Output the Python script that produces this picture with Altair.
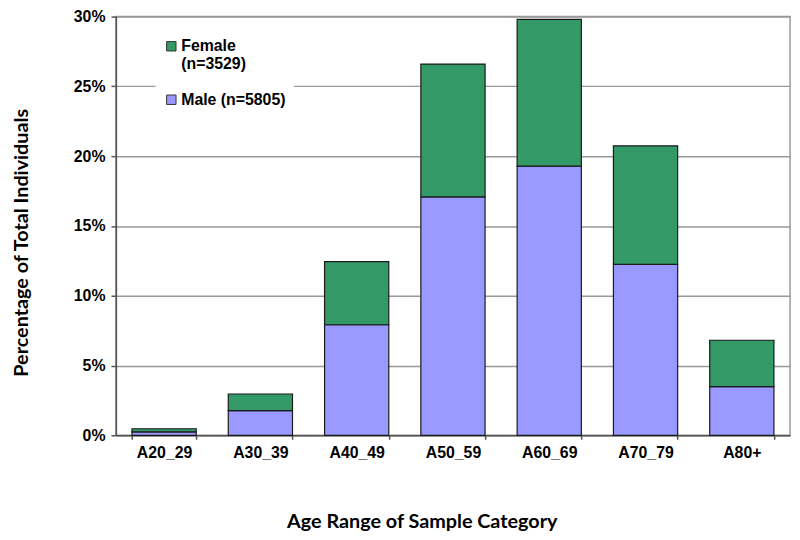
import altair as alt
import pandas as pd

categories = ["A20_29", "A30_39", "A40_49", "A50_59", "A60_69", "A70_79", "A80+"]
male = [0.25, 1.77, 7.92, 17.08, 19.28, 12.25, 3.49]
female = [0.22, 1.19, 4.53, 9.52, 10.52, 8.49, 3.32]
series = ["Female", "Male"]
colors = ["#339966", "#9999FF"]
y_ticks = [0, 5, 10, 15, 20, 25, 30]

rows = []
for c, m, f in zip(categories, male, female):
    rows.append({"cat": c, "sex": "Male", "val": m, "rank": 0})
    rows.append({"cat": c, "sex": "Female", "val": f, "rank": 1})
df = pd.DataFrame(rows)

label_font = "Liberation Sans"
title_font = "Lato"

chart = alt.Chart(df).mark_bar(stroke="#1a1a1a", strokeWidth=1.2).encode(
    x=alt.X("cat:N", sort=categories,
            scale=alt.Scale(paddingInner=0.333, paddingOuter=0.167),
            axis=alt.Axis(title="Age Range of Sample Category", labelAngle=0,
                          labelFont=label_font, labelFontWeight="bold", labelFontSize=16,
                          labelColor="#000", labelPadding=5,
                          tickBand="extent", tickSize=4, tickColor="#555", tickWidth=1.5,
                          domainColor="#555", domainWidth=1.5,
                          titleFont=title_font, titleFontWeight="bold", titleFontSize=20,
                          titleColor="#000", titleX=309, titleY=93, titleAlign="center",
                          titleBaseline="alphabetic")),
    y=alt.Y("val:Q", stack="zero",
            scale=alt.Scale(domain=[0, 30], nice=False),
            axis=alt.Axis(title="Percentage of Total Individuals", values=y_ticks,
                          labelExpr="datum.value + '%'",
                          labelFont=label_font, labelFontWeight="bold", labelFontSize=16,
                          labelColor="#000", labelPadding=6,
                          tickSize=5, tickColor="#555", tickWidth=1.5,
                          domainColor="#555", domainWidth=1.5,
                          grid=True, gridColor="#999", gridWidth=1.5,
                          titleFont=title_font, titleFontWeight="bold", titleFontSize=20,
                          titleColor="#000", titleX=-95, titleY=228, titleAngle=-90,
                          titleAlign="center", titleBaseline="middle")),
    color=alt.Color("sex:N", scale=alt.Scale(domain=series, range=colors),
                    legend=alt.Legend(title=None, orient="none", legendX=40, legendY=14,
                                      fillColor="white", padding=8,
                                      symbolType="square", symbolSize=90,
                                      symbolStrokeColor="#333", symbolStrokeWidth=1,
                                      labelFont=label_font, labelFontWeight="bold",
                                      labelFontSize=16, labelColor="#000", labelLimit=250,
                                      labelOffset=2, rowPadding=20,
                                      labelExpr="datum.label == 'Female' ? ['Female', '(n=3529)'] : 'Male (n=5805)'")),
    order=alt.Order("rank:Q"),
).properties(
    width=681, height=423,
    autosize=alt.AutoSizeParams(type="none"),
    padding={"left": 109, "top": 6, "right": 2, "bottom": 95},
).configure_view(stroke="#999", strokeWidth=1.5)

chart.save("out.html", embed_options={"renderer": "svg", "actions": False})
